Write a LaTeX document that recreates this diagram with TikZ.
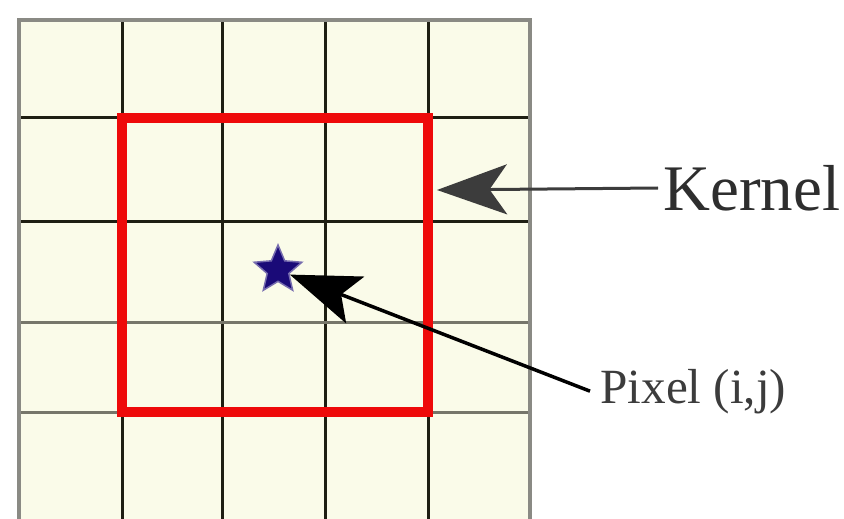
\documentclass[tikz,border=0pt]{standalone}
\usepackage{fontspec}
\setmainfont{Liberation Serif}
\usepackage{tikz}
\usetikzlibrary{positioning,arrows.meta,shapes.geometric}
\definecolor{cfondo}{HTML}{FAFBE9}
\definecolor{clinea}{HTML}{1E1E12}
\definecolor{cborde}{HTML}{8A8A84}
\definecolor{clineag}{HTML}{76766A}
\definecolor{crojo}{HTML}{EE0A0A}
\definecolor{cazul}{HTML}{1A0A78}
\definecolor{cgris}{HTML}{3C3C3C}
\tikzset{
  linea/.style={draw=clinea, line width=0.6mm},
  lineag/.style={draw=clineag, line width=0.6mm},
  marco/.style={draw=cborde, line width=0.8mm},
  nucleo/.style={draw=crojo, line width=2mm, line join=miter},
  flecha/.style={-{Stealth[length=14mm, width=10mm, inset=3mm]}, line width=0.7mm, draw=black},
  flechag/.style={-{Stealth[length=14mm, width=10mm, inset=3.5mm]}, line width=0.6mm, draw=cgris},
  etq/.style={font=\fontsize{28}{30}\selectfont, text=cgris, inner sep=0pt},
  etqk/.style={font=\fontsize{37}{40}\selectfont, text=black!82, inner sep=0pt},
  estrella/.style={star, star points=5, star point ratio=2.2, fill=cazul,
    draw=cazul!60, line width=0.3mm, minimum size=10mm, inner sep=0pt},
}
\begin{document}
\begin{tikzpicture}[x=0.2mm, y=-0.2mm]
  \useasboundingbox (0,0) rectangle (844,519);
  % rejilla de pixeles
  \fill[cfondo] (19,20) rectangle (530,525);
  \foreach \x in {122,222,325,428}
    \draw[linea] (\x,20) -- (\x,525);
  \foreach \y in {118,222}
    \draw[linea] (19,\y) -- (530,\y);
  \foreach \y in {322,412}
    \draw[lineag] (19,\y) -- (530,\y);
  \draw[marco] (19,525) -- (19,20) -- (530,20) -- (530,525);
  % ventana del kernel
  \draw[nucleo] (122,118) rectangle (428,412);

  \node[estrella] (pixel) at (278,270) {};
  \node[etqk, anchor=west] (kernel) at (663,188) {Kernel};
  \node[etq, anchor=base west] (texto) at (600,403) {Pixel (i,j)};
  \coordinate (borde) at (437,190);

  \draw[flechag] ([xshift=-1mm]kernel.west) -- (borde);
  \draw[flecha] ([xshift=-2mm]texto.west) -- (pixel);
\end{tikzpicture}
\end{document}
